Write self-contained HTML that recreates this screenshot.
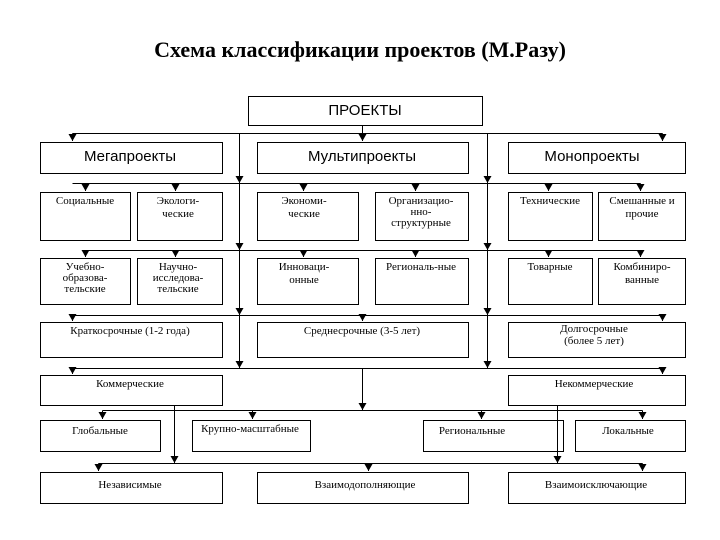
<!DOCTYPE html>
<html><head><meta charset="utf-8"><style>
html,body{margin:0;padding:0;background:#fff}
svg{display:block}
.s{font-family:"Liberation Sans",sans-serif;font-size:15px}
.t{font-family:"Liberation Serif",serif;font-size:11px}
</style></head><body>
<svg width="720" height="540" viewBox="0 0 720 540">
<defs><marker id="a" markerWidth="8" markerHeight="8" refX="4" refY="7" orient="0" markerUnits="userSpaceOnUse"><path d="M0,0 L8,0 L4,7 Z" fill="#000"/></marker></defs>
<text x="360" y="57" text-anchor="middle" font-family="Liberation Serif,serif" font-weight="bold" font-size="22">Схема классификации проектов (М.Разу)</text>
<g fill="none" stroke="#000" stroke-width="1">
<rect x="248.5" y="96.5" width="234" height="29"/>
<rect x="40.5" y="142.5" width="182" height="31"/>
<rect x="257.5" y="142.5" width="211" height="31"/>
<rect x="508.5" y="142.5" width="177" height="31"/>
<rect x="40.5" y="192.5" width="90" height="48"/>
<rect x="137.5" y="192.5" width="85" height="48"/>
<rect x="257.5" y="192.5" width="101" height="48"/>
<rect x="375.5" y="192.5" width="93" height="48"/>
<rect x="508.5" y="192.5" width="84" height="48"/>
<rect x="598.5" y="192.5" width="87" height="48"/>
<rect x="40.5" y="258.5" width="90" height="46"/>
<rect x="137.5" y="258.5" width="85" height="46"/>
<rect x="257.5" y="258.5" width="101" height="46"/>
<rect x="375.5" y="258.5" width="93" height="46"/>
<rect x="508.5" y="258.5" width="84" height="46"/>
<rect x="598.5" y="258.5" width="87" height="46"/>
<rect x="40.5" y="322.5" width="182" height="35"/>
<rect x="257.5" y="322.5" width="211" height="35"/>
<rect x="508.5" y="322.5" width="177" height="35"/>
<rect x="40.5" y="375.5" width="182" height="30"/>
<rect x="508.5" y="375.5" width="177" height="30"/>
<rect x="40.5" y="420.5" width="120" height="31"/>
<rect x="192.5" y="420.5" width="118" height="31"/>
<rect x="423.5" y="420.5" width="140" height="31"/>
<rect x="575.5" y="420.5" width="110" height="31"/>
<rect x="40.5" y="472.5" width="182" height="31"/>
<rect x="257.5" y="472.5" width="211" height="31"/>
<rect x="508.5" y="472.5" width="177" height="31"/>
<path d="M72.5,133.5 H662.5 M72.5,183.5 H640.5 M85.5,250.5 H640.5 M72.5,315.5 H662.5 M72.5,368.5 H662.5 M102.5,410.5 H642.5 M98.5,463.5 H642.5"/>
<path d="M239.5,133.5 V368.5 M487.5,133.5 V368.5"/>
<path d="M362.5,126 V133"/>
<path d="M174.5,406 V463 M557.5,406 V463 M362.5,368.5 V410"/>
</g>
<g stroke="#000" fill="none" marker-end="url(#a)">
<path d="M72.5,133.5 V141"/><path d="M362.5,133.5 V141"/><path d="M662.5,133.5 V141"/>
<path d="M85.5,183.5 V191"/><path d="M175.5,183.5 V191"/><path d="M303.5,183.5 V191"/><path d="M415.5,183.5 V191"/><path d="M548.5,183.5 V191"/><path d="M640.5,183.5 V191"/>
<path d="M85.5,250.5 V257"/><path d="M175.5,250.5 V257"/><path d="M303.5,250.5 V257"/><path d="M415.5,250.5 V257"/><path d="M548.5,250.5 V257"/><path d="M640.5,250.5 V257"/>
<path d="M72.5,315.5 V321"/><path d="M362.5,315.5 V321"/><path d="M662.5,315.5 V321"/>
<path d="M72.5,368.5 V374"/><path d="M662.5,368.5 V374"/>
<path d="M102.5,410.5 V419"/><path d="M252.5,410.5 V419"/><path d="M481.5,410.5 V419"/><path d="M642.5,410.5 V419"/>
<path d="M98.5,463.5 V471"/><path d="M368.5,463.5 V471"/><path d="M642.5,463.5 V471"/>
<path d="M239.5,170 V183"/><path d="M487.5,170 V183"/>
<path d="M239.5,238 V250"/><path d="M487.5,238 V250"/>
<path d="M239.5,303 V315"/><path d="M487.5,303 V315"/>
<path d="M239.5,356 V368"/><path d="M487.5,356 V368"/>
<path d="M362.5,395 V410"/><path d="M174.5,450 V463"/><path d="M557.5,450 V463"/>
</g>
<g class="s">
<text x="365" y="115" text-anchor="middle">ПРОЕКТЫ</text>
<text x="130" y="161" text-anchor="middle">Мегапроекты</text>
<text x="362" y="161" text-anchor="middle">Мультипроекты</text>
<text x="592" y="161" text-anchor="middle">Монопроекты</text>
</g>
<g class="t" text-anchor="middle">
<text x="85" y="204">Социальные</text>
<text x="178" y="204">Экологи-</text><text x="178" y="217">ческие</text>
<text x="304" y="204">Экономи-</text><text x="304" y="217">ческие</text>
<text x="421" y="204">Организацио-</text><text x="421" y="215">нно-</text><text x="421" y="226">структурные</text>
<text x="550" y="204">Технические</text>
<text x="642" y="204">Смешанные и</text><text x="642" y="217">прочие</text>
<text x="85" y="270">Учебно-</text><text x="85" y="281">образова-</text><text x="85" y="292">тельские</text>
<text x="178" y="270">Научно-</text><text x="178" y="281">исследова-</text><text x="178" y="292">тельские</text>
<text x="304" y="270">Инноваци-</text><text x="304" y="283">онные</text>
<text x="421" y="270">Региональ-ные</text>
<text x="550" y="270">Товарные</text>
<text x="642" y="270">Комбиниро-</text><text x="642" y="283">ванные</text>
<text x="130" y="334">Краткосрочные (1-2 года)</text>
<text x="362" y="334">Среднесрочные (3-5 лет)</text>
<text x="594" y="332">Долгосрочные</text><text x="594" y="344">(более 5 лет)</text>
<text x="130" y="387">Коммерческие</text>
<text x="594" y="387">Некоммерческие</text>
<text x="100" y="434">Глобальные</text>
<text x="250" y="432">Крупно-масштабные</text>
<text x="472" y="434">Региональные</text>
<text x="628" y="434">Локальные</text>
<text x="130" y="488">Независимые</text>
<text x="365" y="488">Взаимодополняющие</text>
<text x="596" y="488">Взаимоисключающие</text>
</g>
</svg>
</body></html>
